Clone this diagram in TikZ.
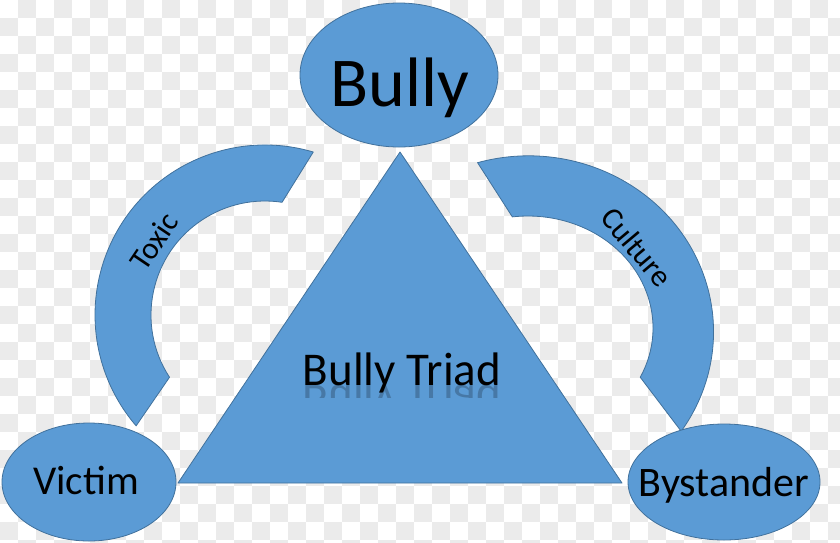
\documentclass[tikz,border=0pt]{standalone}
\usepackage{fontspec}
\setmainfont{Carlito}
\usetikzlibrary{shapes.geometric}
\definecolor{triblue}{HTML}{5B9BD5}
\definecolor{triedge}{HTML}{41719C}
\definecolor{checkgray}{HTML}{EBEBEB}
\begin{document}
\begin{tikzpicture}[x=1pt,y=-1pt,
  blob/.style={ellipse,draw=triedge,fill=triblue,line width=.8pt,inner sep=0pt},
  band/.style={draw=triedge,fill=triblue,line width=.8pt,line join=round},
  word/.style={text=black,inner sep=0pt}]
\useasboundingbox (0,0) rectangle (840,542);
% transparent-look backdrop
\begin{scope}
\clip (0,0) rectangle (840,542);
\foreach \i in {0,...,46}{\foreach \j in {0,...,30}{\pgfmathtruncatemacro\odd{mod(\i+\j,2)}\ifnum\odd=1 \fill[checkgray] (18*\i,18*\j) rectangle +(18,18);\fi}}
\end{scope}
% triangle and the two bands
\coordinate (apex) at (400,152); \coordinate (baseL) at (178,483); \coordinate (baseR) at (622,483);
\draw[band] (apex)--(baseR)--(baseL)--cycle;
\coordinate (hubL) at (265,315); \coordinate (hubR) at (528,328);
\draw[band] ([shift={(-73.5:170)}]hubL) arc[start angle=-73.5,end angle=-220.7,radius=170] -- ([shift={(-213.1:114)}]hubL) arc[start angle=-213.1,end angle=-81.4,radius=114] -- cycle;
\draw[band] ([shift={(-106:183 and 172)}]hubR) arc[start angle=-106,end angle=34.4,x radius=185,y radius=176] -- ([shift={(26.1:125 and 112)}]hubR) arc[start angle=26.1,end angle=-97.2,x radius=125,y radius=112] -- cycle;
% the three roles
\node[blob,minimum width=198pt,minimum height=144pt] (bully) at (399,75) {};
\node[blob,minimum width=174pt,minimum height=118pt] (victim) at (89,482) {};
\node[blob,minimum width=192pt,minimum height=116pt] (bystander) at (724,482) {};
\node[word,anchor=base,font=\fontsize{70}{70}\selectfont] (bullyword) at (400,106) {Bully};
\node[word,anchor=base,font=\fontsize{41}{41}\selectfont] (victimword) at (86,494) {Victim};
\node[word,anchor=base,font=\fontsize{42}{42}\selectfont] (bystanderword) at (724,496) {Bystander};
\node[word,rotate=56,font=\fontsize{31}{31}\selectfont] (toxicword) at (154,241) {Toxic};
\node[word,rotate=-50,font=\fontsize{31}{31}\selectfont] (cultureword) at (637,247) {Culture};
\node[word,anchor=base,font=\fontsize{47}{47}\selectfont] (triad) at (402,385) {Bully Triad};
\begin{scope}
\clip (290,385) rectangle (515,397);
\node[word,anchor=base,yscale=-1,opacity=.22,font=\fontsize{47}{47}\selectfont] (triadecho) at (402,385) {Bully Triad};
\end{scope}
\end{tikzpicture}
\end{document}
